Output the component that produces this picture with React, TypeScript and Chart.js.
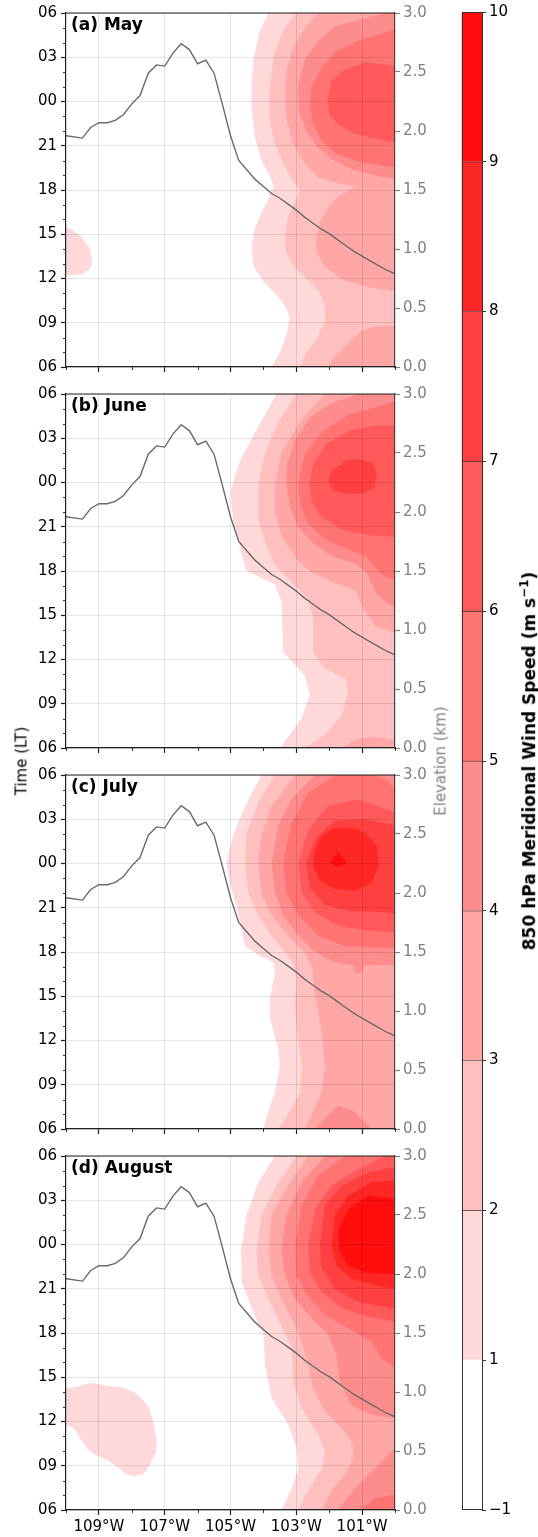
import React, { useEffect, useRef } from 'react';
import { Chart, registerables } from 'chart.js';

Chart.register(...registerables);
Chart.defaults.font.family = "'DejaVu Sans', sans-serif";
Chart.defaults.font.size = 15;
Chart.defaults.color = '#000';

// ---------------- data ----------------
const BAND_LABELS = ['\u22121', '1', '2', '3', '4', '5', '6', '7', '8', '9', '10'];
const BAND_COLORS = ['#ffffff', '#ffd9d9', '#ffbfbf', '#ffa6a6', '#ff8c8c', '#ff7373', '#ff5959', '#ff4040', '#ff2626', '#ff0d0d'];
const HOUR_LABELS = ['06', '09', '12', '15', '18', '21', '00', '03', '06'];
const PANEL_TITLES = ['(a) May', '(b) June', '(c) July', '(d) August'];

// terrain elevation (km) along the cross-section
const ELEV_LON = [-110, -109.5, -109.25, -109, -108.75, -108.5, -108.25, -108, -107.75, -107.5, -107.25, -107, -106.75, -106.5, -106.25, -106, -105.75, -105.5, -105.25, -105, -104.75, -104.5, -104.25, -104, -103.75, -103.5, -103.25, -103, -102.75, -102.5, -102.25, -102, -101.75, -101.5, -101.25, -101, -100.75, -100.5, -100.25, -100];
const ELEV_KM = [1.96, 1.94, 2.03, 2.07, 2.07, 2.09, 2.14, 2.23, 2.30, 2.49, 2.56, 2.55, 2.66, 2.74, 2.69, 2.57, 2.60, 2.49, 2.23, 1.96, 1.75, 1.67, 1.59, 1.53, 1.47, 1.43, 1.38, 1.33, 1.27, 1.22, 1.17, 1.13, 1.08, 1.03, 0.98, 0.94, 0.90, 0.86, 0.82, 0.79];

// contour regions: [longitude, hours after 06 LT]
const MAY_1 = [[-103.85, 24], [-104.11, 22.8], [-104.29, 21.0], [-104.36, 19.2], [-104.36, 17.4], [-104.26, 15.6], [-104.06, 14.0], [-103.8, 12.9], [-103.68, 12.2], [-103.85, 11.4], [-104.06, 10.5], [-104.26, 9.4], [-104.36, 8.25], [-104.31, 6.9], [-104.0, 5.8], [-103.6, 4.9], [-103.3, 4.0], [-103.2, 3.3], [-103.3, 2.2], [-103.5, 1.0], [-103.75, 0], [-100, 0], [-100, 24]];
const MAY_1_WEST = [[-110, 9.49], [-109.78, 9.26], [-109.57, 8.92], [-109.42, 8.47], [-109.27, 8.02], [-109.2, 7.01], [-109.27, 6.67], [-109.47, 6.29], [-109.96, 6.22], [-110, 6.22]];
const MAY_2 = [[-103.04, 24], [-103.4, 22.8], [-103.7, 21.0], [-103.82, 18.5], [-103.8, 16.7], [-103.65, 15.1], [-103.4, 13.8], [-103.09, 12.6], [-102.89, 12.0], [-102.99, 11.4], [-103.24, 10.3], [-103.35, 8.9], [-103.32, 7.8], [-103.09, 6.9], [-102.69, 6.0], [-102.28, 5.1], [-102.13, 4.0], [-102.13, 3.1], [-102.38, 1.9], [-102.69, 1.0], [-102.89, 0], [-100, 0], [-100, 24]];
const MAY_3 = [[-102.33, 24], [-102.74, 23.0], [-103.09, 21.7], [-103.3, 20.1], [-103.35, 18.3], [-103.28, 16.7], [-103.09, 15.1], [-102.74, 13.8], [-102.3, 12.8], [-101.6, 12.4], [-101.2, 12.25], [-101.7, 11.6], [-101.98, 11.0], [-102.28, 9.8], [-102.4, 8.7], [-102.38, 7.8], [-102.13, 6.8], [-101.57, 5.9], [-100.86, 5.44], [-100, 5.14], [-100, 24]];
const MAY_3_SE = [[-100, 2.8], [-100.66, 2.73], [-101.07, 2.39], [-101.47, 1.49], [-101.88, 0.59], [-102.03, 0], [-100, 0]];
const MAY_4 = [[-100.3, 24], [-101.0, 23.6], [-101.8, 23.1], [-102.35, 22.1], [-102.75, 20.8], [-102.95, 19.0], [-102.92, 17.4], [-102.7, 16.0], [-102.35, 14.9], [-101.85, 14.0], [-101.2, 13.3], [-100.4, 12.9], [-100, 12.75], [-100, 24]];
const MAY_5 = [[-100, 22.9], [-101.07, 22.16], [-101.78, 21.44], [-102.23, 20.31], [-102.54, 18.96], [-102.59, 17.6], [-102.49, 16.48], [-102.23, 15.35], [-101.78, 14.45], [-101.07, 13.88], [-100, 13.55]];
const MAY_6 = [[-100, 20.42], [-100.92, 20.65], [-101.57, 20.08], [-101.93, 19.41], [-102.06, 18.05], [-101.98, 17.04], [-101.68, 16.36], [-101.17, 15.8], [-100.56, 15.46], [-100, 15.24]];

const JUN_1 = [[-103.6, 24], [-104.21, 21.6], [-104.71, 19.5], [-105.0, 17.4], [-104.92, 15.4], [-104.71, 13.6], [-104.51, 12.0], [-103.65, 11.1], [-103.45, 9.9], [-103.4, 6.5], [-102.74, 4.9], [-102.59, 3.6], [-102.84, 2.0], [-103.5, 0], [-100, 0], [-100, 24]];
const JUN_2 = [[-102.99, 24], [-103.55, 22.1], [-103.95, 20.0], [-104.16, 17.8], [-104.16, 15.5], [-103.95, 13.95], [-103.65, 12.4], [-103.04, 11.0], [-102.64, 10.1], [-102.49, 8.8], [-102.49, 6.5], [-102.13, 5.4], [-101.52, 4.7], [-101.42, 3.8], [-101.62, 2.2], [-102.13, 0.9], [-102.74, 0], [-100, 0], [-100, 24]];
const JUN_3 = [[-102.13, 24], [-102.84, 22.3], [-103.45, 20.0], [-103.65, 17.8], [-103.65, 16.0], [-103.45, 14.4], [-102.99, 12.8], [-102.54, 11.9], [-101.83, 11.2], [-101.2, 10.7], [-100.95, 9.4], [-100.6, 8.3], [-100, 7.8], [-100, 24]];
const JUN_3_SE = [[-100, 0.55], [-100.61, 0.76], [-101.12, 0.65], [-101.62, 0], [-100, 0]];
const JUN_4 = [[-101.07, 24], [-101.88, 23.44], [-102.59, 22.42], [-103.04, 20.84], [-103.28, 19.27], [-103.3, 18.03], [-103.2, 16.34], [-102.94, 14.98], [-102.49, 13.86], [-101.88, 12.96], [-101.17, 12.5], [-100.85, 11.8], [-100.6, 10.6], [-100.3, 9.9], [-100, 9.6], [-100, 24]];
const JUN_5 = [[-100, 23.55], [-100.56, 23.1], [-101.37, 22.65], [-102.18, 21.52], [-102.74, 19.94], [-102.94, 18.03], [-102.89, 16.56], [-102.64, 15.21], [-102.08, 14.08], [-101.37, 13.41], [-100.9, 13.0], [-100.6, 12.2], [-100.3, 11.6], [-100, 11.4]];
const JUN_6 = [[-100, 21.86], [-100.56, 21.86], [-101.37, 21.52], [-102.08, 20.62], [-102.49, 19.27], [-102.59, 18.03], [-102.54, 16.79], [-102.23, 15.66], [-101.57, 14.76], [-100.76, 14.42], [-100, 14.31]];
const JUN_7 = [[-102.03, 18.03], [-101.93, 18.82], [-101.47, 19.49], [-101.07, 19.6], [-100.66, 19.27], [-100.56, 18.59], [-100.61, 17.69], [-100.97, 17.24], [-101.47, 17.24], [-101.88, 17.46]];

const JUL_1 = [[-104.06, 24], [-104.56, 21.9], [-104.92, 19.9], [-105.12, 18.1], [-105.02, 16.7], [-104.82, 15.1], [-104.56, 12.4], [-104.16, 11.8], [-103.7, 11.3], [-103.65, 10.6], [-103.8, 8.8], [-103.8, 7.5], [-103.55, 5.45], [-103.5, 4.3], [-103.65, 2.5], [-103.85, 1.2], [-104.0, 0], [-100, 0], [-100, 24]];
const JUL_2 = [[-103.65, 24], [-104.16, 22.1], [-104.51, 20.1], [-104.56, 18.1], [-104.46, 16.0], [-104.16, 14.5], [-103.75, 13.1], [-103.35, 12.0], [-103.09, 11.2], [-102.99, 10.2], [-103.04, 8.4], [-102.99, 6.6], [-102.82, 4.3], [-102.89, 2.5], [-103.25, 0.95], [-103.55, 0], [-100, 0], [-100, 24]];
const JUL_3 = [[-103.04, 24], [-103.75, 21.9], [-104.06, 19.9], [-104.16, 18.1], [-104.06, 16.0], [-103.75, 14.5], [-103.25, 13.1], [-102.74, 12.0], [-102.52, 10.9], [-102.41, 8.8], [-102.23, 6.6], [-102.13, 4.3], [-102.23, 2.5], [-102.54, 0.95], [-102.74, 0], [-100, 0], [-100, 24]];
const JUL_4 = [[-102.43, 24], [-103.14, 22.4], [-103.55, 20.55], [-103.75, 18.1], [-103.65, 16.0], [-103.4, 14.5], [-102.94, 13.1], [-102.43, 12.0], [-101.83, 11.3], [-101.27, 11.1], [-101.2, 10.6], [-101.02, 10.6], [-100.92, 11.1], [-100, 11.13], [-100, 24]];
const JUL_4_SE = [[-102.43, 0], [-102.13, 0.72], [-101.73, 1.57], [-101.32, 1.28], [-100.92, 0.5], [-100.71, 0]];
const JUL_5 = [[-101.83, 24], [-102.64, 22.8], [-103.14, 20.8], [-103.4, 18.1], [-103.3, 16.0], [-102.94, 14.5], [-102.33, 13.1], [-101.52, 12.4], [-100.71, 12.3], [-100, 12.3], [-100, 23.0], [-100.2, 23.6], [-100.61, 24]];
const JUL_6 = [[-100, 21.45], [-101.12, 22.36], [-102.03, 21.9], [-102.64, 20.33], [-102.94, 18.07], [-102.84, 16.04], [-102.43, 14.69], [-101.73, 13.79], [-100.92, 13.45], [-100, 13.34]];
const JUL_7 = [[-100, 20.6], [-100.92, 21.0], [-101.83, 20.9], [-102.4, 19.8], [-102.7, 18.07], [-102.6, 16.4], [-102.13, 15.2], [-101.32, 14.75], [-100.61, 14.75], [-100, 14.6]];
const JUL_8 = [[-101.83, 20.44], [-102.23, 19.88], [-102.43, 18.97], [-102.49, 17.85], [-102.28, 16.83], [-101.83, 16.27], [-101.22, 16.16], [-100.71, 16.72], [-100.49, 17.85], [-100.56, 19.2], [-100.92, 20.1], [-101.32, 20.44]];
const JUL_9 = [[-101.73, 18.79], [-101.98, 18.07], [-101.73, 17.74], [-101.47, 18.07]];

const AUG_1 = [[-103.65, 24], [-104.16, 22.2], [-104.51, 20.0], [-104.68, 17.7], [-104.66, 15.5], [-104.36, 13.7], [-104.0, 11.9], [-103.95, 9.8], [-103.75, 7.6], [-103.25, 5.8], [-102.99, 4.2], [-102.94, 2.8], [-103.14, 1.5], [-103.45, 0], [-100, 0], [-100, 24]];
const AUG_1_WEST = [[-110, 8.25], [-109.67, 8.36], [-109.27, 8.63], [-108.76, 8.43], [-108.26, 8.3], [-107.95, 8.02], [-107.7, 7.57], [-107.5, 7.01], [-107.35, 6.0], [-107.24, 4.64], [-107.26, 3.97], [-107.45, 3.06], [-107.65, 2.43], [-107.95, 2.28], [-108.21, 2.5], [-108.46, 2.95], [-108.76, 3.4], [-109.17, 3.79], [-109.37, 4.19], [-109.57, 4.87], [-109.73, 5.43], [-109.93, 5.77], [-110, 5.77]];
const AUG_2 = [[-102.99, 24], [-103.55, 22.2], [-104.06, 20.0], [-104.21, 17.7], [-104.16, 15.9], [-103.85, 14.3], [-103.45, 12.5], [-103.14, 11.0], [-103.09, 8.7], [-102.84, 6.9], [-102.33, 5.1], [-102.13, 4.0], [-102.23, 2.8], [-102.64, 1.3], [-102.94, 0], [-100, 0], [-100, 24]];
const AUG_3 = [[-102.64, 24], [-103.25, 22.0], [-103.75, 20.0], [-103.85, 17.7], [-103.75, 15.9], [-103.45, 14.3], [-103.09, 12.8], [-102.84, 11.4], [-102.64, 9.8], [-102.49, 8.25], [-102.13, 6.7], [-101.52, 5.3], [-101.27, 4.4], [-101.27, 3.5], [-101.52, 2.4], [-101.93, 1.3], [-102.23, 0], [-100, 0], [-100, 24]];
const AUG_4 = [[-102.13, 24], [-102.84, 22.2], [-103.3, 20.0], [-103.45, 17.7], [-103.35, 15.9], [-103.04, 14.3], [-102.54, 13.0], [-102.03, 11.9], [-101.78, 10.5], [-101.68, 8.7], [-101.32, 7.1], [-100.71, 6.45], [-100, 6.2], [-100, 24]];
const AUG_4_SE = [[-100, 4.2], [-100.61, 2.84], [-101.12, 1.71], [-101.52, 0.59], [-101.73, 0], [-100, 0]];
const AUG_5 = [[-101.52, 24], [-102.33, 22.7], [-102.84, 20.65], [-103.04, 17.9], [-102.99, 15.9], [-102.69, 14.6], [-102.13, 13.2], [-101.42, 12.3], [-100.71, 11.4], [-100.41, 10.3], [-100, 9.6], [-100, 24]];
const AUG_5_SE = [[-100, 1.04], [-100.61, 0.81], [-101.02, 0], [-100, 0]];
const AUG_6 = [[-100.31, 24], [-101.12, 23.1], [-101.93, 22.0], [-102.43, 20.4], [-102.64, 17.9], [-102.59, 16.1], [-102.23, 14.8], [-101.62, 13.7], [-100.81, 13.1], [-100, 12.76], [-100, 24]];
const AUG_7 = [[-100, 23.24], [-100.81, 22.9], [-101.62, 22.0], [-102.13, 20.65], [-102.29, 17.9], [-102.23, 16.4], [-101.83, 15.0], [-101.12, 14.1], [-100, 13.66]];
const AUG_8 = [[-100, 22.34], [-100.71, 22.23], [-101.42, 21.3], [-101.83, 20.0], [-101.93, 17.9], [-101.78, 16.6], [-101.32, 15.7], [-100.61, 15.24], [-100, 15.0]];
const AUG_9 = [[-100, 21.1], [-100.81, 21.3], [-101.42, 20.4], [-101.7, 19.1], [-101.7, 17.7], [-101.45, 16.6], [-100.92, 16.1], [-100, 16.0]];

// [level index, region]
const MAY = [[1, MAY_1], [1, MAY_1_WEST], [2, MAY_2], [3, MAY_3], [3, MAY_3_SE], [4, MAY_4], [5, MAY_5], [6, MAY_6]];
const JUN = [[1, JUN_1], [2, JUN_2], [3, JUN_3], [3, JUN_3_SE], [4, JUN_4], [5, JUN_5], [6, JUN_6], [7, JUN_7]];
const JUL = [[1, JUL_1], [2, JUL_2], [3, JUL_3], [4, JUL_4], [4, JUL_4_SE], [5, JUL_5], [6, JUL_6], [7, JUL_7], [8, JUL_8], [9, JUL_9]];
const AUG = [[1, AUG_1], [1, AUG_1_WEST], [2, AUG_2], [3, AUG_3], [4, AUG_4], [4, AUG_4_SE], [5, AUG_5], [5, AUG_5_SE], [6, AUG_6], [7, AUG_7], [8, AUG_8], [9, AUG_9]];
const PANEL_CONTOURS = [MAY, JUN, JUL, AUG];

// ---------------- layout ----------------
const PANEL_TOPS = [12, 393, 774, 1155];
const PLOT_H = 355;
const CANVAS_W = 460;
const PAD_TOP = 12;
const X_AXIS_H = 30;

function makeDecor(title: string) {
  return {
    id: 'decor' + title,
    afterDraw(chart: any) {
      const { ctx, chartArea: a, scales } = chart;
      ctx.save();
      ctx.strokeStyle = '#222';
      ctx.lineWidth = 1.2;
      ctx.beginPath();
      ctx.moveTo(a.left, a.top);
      ctx.lineTo(a.right, a.top);
      ctx.stroke();
      ctx.lineWidth = 0.9;
      ctx.beginPath();
      for (let h = 0; h <= 24; h++) {
        if (h % 3 === 0) continue;
        const y = Math.round(scales.y.getPixelForValue(h)) + 0.5;
        ctx.moveTo(a.left - 3, y);
        ctx.lineTo(a.left, y);
      }
      for (let lon = -110; lon <= -100; lon += 2) {
        const x = Math.round(scales.x.getPixelForValue(lon)) + 0.5;
        ctx.moveTo(x, a.bottom);
        ctx.lineTo(x, a.bottom + 3);
      }
      ctx.stroke();
      ctx.fillStyle = '#000';
      ctx.font = "bold 17px 'DejaVu Sans'";
      ctx.textBaseline = 'alphabetic';
      ctx.textAlign = 'left';
      ctx.fillText(title, a.left + 5, a.top + 17);
      ctx.restore();
    },
  };
}

function Panel({ idx }: { idx: number }) {
  const ref = useRef<HTMLCanvasElement>(null);
  useEffect(() => {
    const showLon = idx === 3;
    const datasets: any[] = (PANEL_CONTOURS[idx] as any[]).map(([lev, poly]) => ({
      label: 'lev' + lev,
      data: (poly as number[][]).map(([x, y]) => ({ x, y })),
      xAxisID: 'x',
      yAxisID: 'y',
      fill: 'shape',
      backgroundColor: BAND_COLORS[lev],
      borderColor: 'rgba(0,0,0,0)',
      borderWidth: 0,
      pointRadius: 0,
      pointHoverRadius: 0,
      tension: 0,
      order: 20 - lev,
    }));
    datasets.push({
      label: 'elev',
      data: ELEV_LON.map((x, i) => ({ x, y: ELEV_KM[i] })),
      xAxisID: 'x',
      yAxisID: 'y2',
      fill: false,
      borderColor: '#6b6b6b',
      borderWidth: 1.4,
      pointRadius: 0,
      tension: 0,
      order: 0,
    });
    const chart = new Chart(ref.current as HTMLCanvasElement, {
      type: 'line',
      data: { datasets },
      options: {
        responsive: false,
        animation: false,
        events: [],
        layout: { padding: { top: PAD_TOP, left: 0, right: 0, bottom: 0 } },
        plugins: { legend: { display: false }, tooltip: { enabled: false }, title: { display: false } },
        scales: {
          x: {
            type: 'linear',
            position: 'bottom',
            min: -110,
            max: -100,
            afterFit: (s: any) => { s.height = X_AXIS_H; },
            ticks: {
              stepSize: 1,
              autoSkip: false,
              maxRotation: 0,
              minRotation: 0,
              padding: 3,
              color: '#000',
              callback: (v: any) => (showLon && Math.abs(Math.round(v)) % 2 === 1 ? `${Math.abs(Math.round(v))}\u00b0W` : ''),
            },
            grid: {
              z: 1,
              lineWidth: 1,
              color: (c: any) => (Math.abs(Math.round(c.tick.value)) % 2 === 1 ? 'rgba(0,0,0,0.1)' : 'rgba(0,0,0,0)'),
              tickColor: (c: any) => (Math.abs(Math.round(c.tick.value)) % 2 === 1 ? '#222' : 'rgba(0,0,0,0)'),
              tickLength: 5,
              tickWidth: 1.2,
            },
            border: { color: '#222', width: 1.2, z: 2 },
          },
          y: {
            type: 'linear',
            position: 'left',
            min: 0,
            max: 24,
            afterFit: (s: any) => { s.width = 66; },
            ticks: {
              stepSize: 1,
              autoSkip: false,
              padding: 4,
              color: '#000',
              callback: (v: any) => (Math.round(v) % 3 === 0 ? HOUR_LABELS[Math.round(v) / 3] : ''),
            },
            grid: {
              z: 1,
              lineWidth: 1,
              color: (c: any) => (Math.round(c.tick.value) % 3 === 0 ? 'rgba(0,0,0,0.1)' : 'rgba(0,0,0,0)'),
              tickColor: (c: any) => (Math.round(c.tick.value) % 3 === 0 ? '#222' : 'rgba(0,0,0,0)'),
              tickLength: 5,
              tickWidth: 1.2,
            },
            border: { color: '#222', width: 1.2, z: 2 },
          },
          y2: {
            type: 'linear',
            position: 'right',
            min: 0,
            max: 3,
            afterFit: (s: any) => { s.width = CANVAS_W - 395; },
            ticks: {
              stepSize: 0.5,
              autoSkip: false,
              padding: 3,
              color: '#808080',
              callback: (v: any) => Number(v).toFixed(1),
            },
            grid: { drawOnChartArea: false, tickColor: '#808080', tickLength: 5, tickWidth: 1.2 },
            border: { color: '#444', width: 1.2, z: 2 },
          },
        },
      },
      plugins: [makeDecor(PANEL_TITLES[idx])],
    } as any);
    return () => chart.destroy();
  }, [idx]);
  const h = PAD_TOP + PLOT_H + X_AXIS_H;
  return (
    <canvas
      ref={ref}
      width={CANVAS_W}
      height={h}
      style={{ position: 'absolute', left: 0, top: PANEL_TOPS[idx] - PAD_TOP, width: CANVAS_W, height: h }}
    />
  );
}

function ColorBar() {
  const ref = useRef<HTMLCanvasElement>(null);
  useEffect(() => {
    const chart = new Chart(ref.current as HTMLCanvasElement, {
      type: 'bar',
      data: {
        labels: [''],
        datasets: BAND_COLORS.map((c, i) => ({
          label: BAND_LABELS[i],
          data: [1],
          backgroundColor: c,
          borderColor: '#333',
          borderWidth: { top: i === 0 ? 0 : 0.8, bottom: 0, left: 0, right: 0 },
          borderSkipped: false,
          barPercentage: 1,
          categoryPercentage: 1,
          stack: 'cb',
        })),
      },
      options: {
        responsive: false,
        animation: false,
        events: [],
        layout: { padding: { top: 12, bottom: 27, left: 21.5, right: 0 } },
        plugins: { legend: { display: false }, tooltip: { enabled: false } },
        scales: {
          x: { display: false, stacked: true },
          y: {
            stacked: true,
            position: 'right',
            min: 0,
            max: 10,
            afterFit: (s: any) => { s.width = 56; },
            ticks: { stepSize: 1, autoSkip: false, padding: 3, color: '#000', callback: (v: any) => BAND_LABELS[Math.round(v)] },
            grid: { drawOnChartArea: false, tickLength: 4, tickColor: '#333', tickWidth: 1 },
            border: { color: '#333', width: 1 },
          },
        },
      },
      plugins: [
        {
          id: 'cbOutline',
          afterDraw(chart: any) {
            const { ctx, chartArea: a } = chart;
            ctx.save();
            ctx.strokeStyle = '#333';
            ctx.lineWidth = 1;
            ctx.strokeRect(Math.round(a.left) + 0.5, Math.round(a.top) + 0.5, Math.round(a.right - a.left) - 1, Math.round(a.bottom - a.top) - 1);
            ctx.restore();
          },
        },
      ],
    } as any);
    return () => chart.destroy();
  }, []);
  return <canvas ref={ref} width={98} height={1537} style={{ position: 'absolute', left: 440, top: 0, width: 98, height: 1537 }} />;
}

const rotated = (x: number, y: number): React.CSSProperties => ({
  position: 'absolute',
  left: x,
  top: y,
  transform: 'translate(-50%, -50%) rotate(-90deg)',
  whiteSpace: 'nowrap',
  fontFamily: "'DejaVu Sans', sans-serif",
  lineHeight: 1,
});

export default function App() {
  return (
    <div style={{ position: 'absolute', left: 0, top: 0, width: 538, height: 1537, background: '#fff', overflow: 'hidden' }}>
      {[0, 1, 2, 3].map((i) => (
        <Panel key={i} idx={i} />
      ))}
      <ColorBar />
      <div style={{ ...rotated(22, 761), fontSize: 15, color: '#000' }}>Time (LT)</div>
      <div style={{ ...rotated(441, 761), fontSize: 15, color: '#808080' }}>Elevation (km)</div>
      <div style={{ ...rotated(528, 761), fontSize: 17, fontWeight: 'bold', color: '#000' }}>
        850 hPa Meridional Wind Speed (m s<sup style={{ fontSize: 12 }}>{'\u22121'}</sup>)
      </div>
    </div>
  );
}
